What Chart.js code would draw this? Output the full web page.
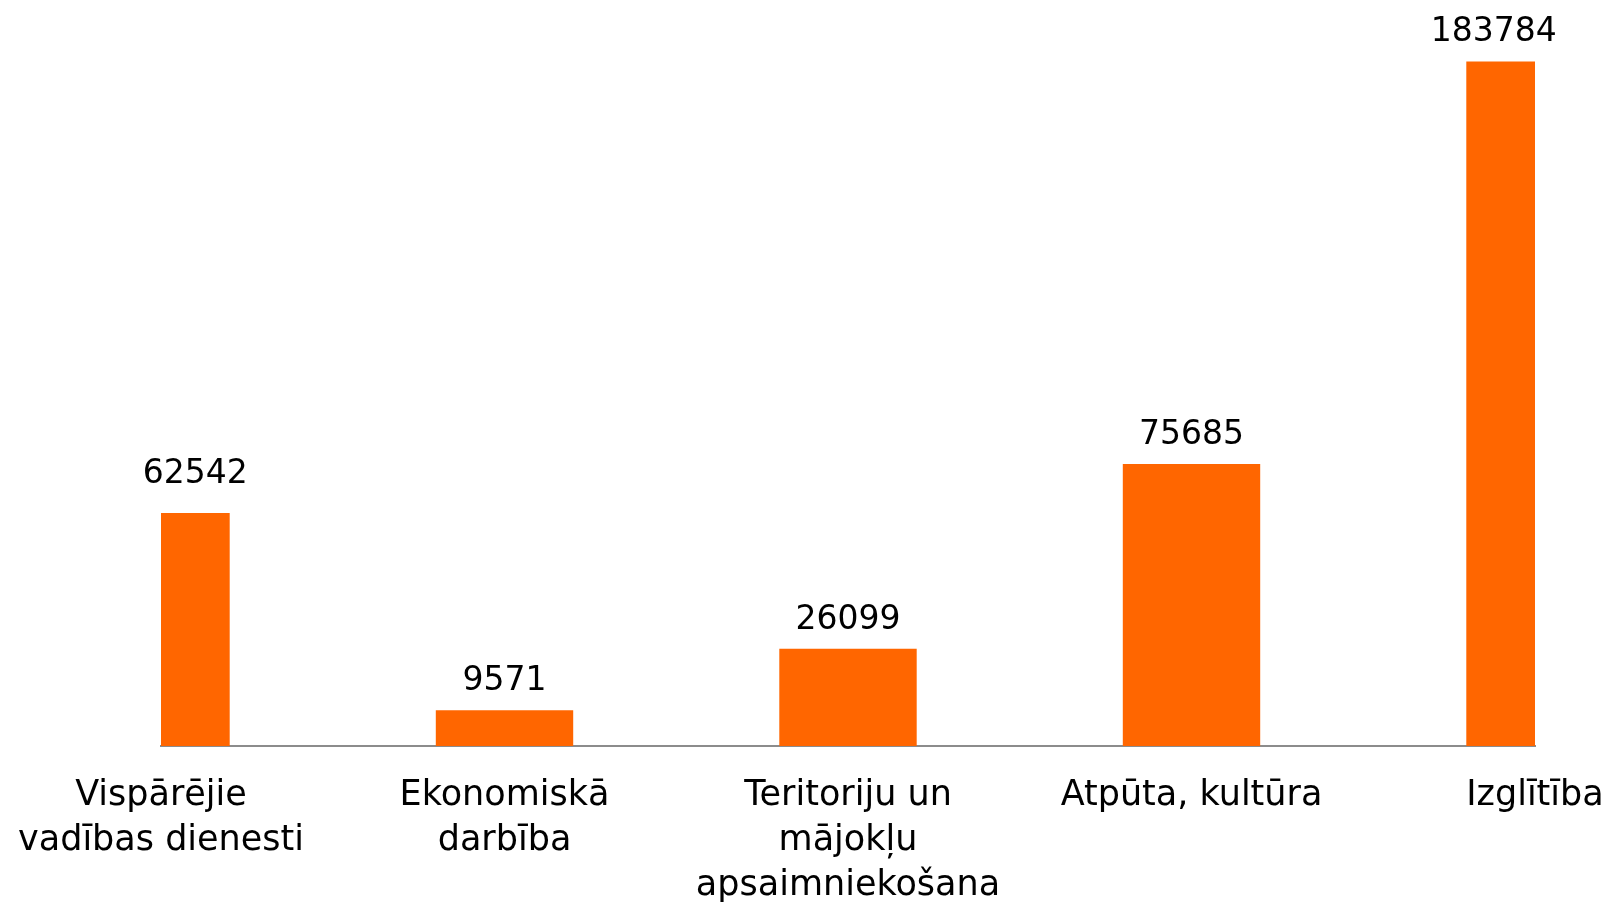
<!DOCTYPE html>
<html>
<head>
<meta charset="utf-8">
<script src="https://cdn.jsdelivr.net/npm/chart.js@4.4.1/dist/chart.umd.min.js"></script>
<style>
  html, body { margin: 0; padding: 0; background: #ffffff; }
  #wrap { width: 1604px; height: 904px; }
</style>
</head>
<body>
<div id="wrap"><canvas id="c" width="1604" height="904"></canvas></div>
<script>
const categories = [
  ["Vispārējie", "vadības dienesti"],
  ["Ekonomiskā", "darbība"],
  ["Teritoriju un", "mājokļu", "apsaimniekošana"],
  ["Atpūta, kultūra"],
  ["Izglītība"]
];
const values = [62542, 9571, 26099, 75685, 183784];
const valueAxisMin = 0;
const valueAxisMax = 200000;

const FONT_FAMILY = "'DejaVu Sans', 'Noto Sans', sans-serif";

const valueLabels = {
  id: 'valueLabels',
  afterDatasetsDraw(chart, args, opts) {
    const ctx = chart.ctx;
    const area = chart.chartArea;
    const meta = chart.getDatasetMeta(0);
    const dx = opts.dx || [];
    const dy = opts.dy || [];
    ctx.save();
    ctx.font = opts.size + "px " + FONT_FAMILY;
    ctx.fillStyle = opts.color;
    ctx.textAlign = 'center';
    ctx.textBaseline = 'alphabetic';
    meta.data.forEach((bar, i) => {
      const p = bar.getProps(['x', 'y', 'width'], true);
      const left = Math.max(p.x - p.width / 2, area.left);
      const right = Math.min(p.x + p.width / 2, area.right);
      const cx = (left + right) / 2 + (dx[i] || 0);
      ctx.fillText(String(chart.data.datasets[0].data[i]), cx, p.y - opts.gap - (dy[i] || 0));
    });
    ctx.restore();
  }
};

new Chart(document.getElementById('c'), {
  type: 'bar',
  data: {
    labels: categories,
    datasets: [{
      data: values,
      backgroundColor: '#FF6600',
      borderWidth: 0,
      categoryPercentage: 1.0,
      barPercentage: 0.4,
      clip: 0
    }]
  },
  options: {
    responsive: false,
    animation: false,
    events: [],
    layout: { padding: { left: 161, right: 69, top: 1, bottom: 0 } },
    plugins: {
      legend: { display: false },
      tooltip: { enabled: false },
      title: { display: false },
      valueLabels: { size: 33, color: '#000000', gap: 20, dx: [0, 0, 0, 0, -7], dy: [10, 0, 0, 0, 0] }
    },
    scales: {
      x: {
        offset: false,
        grid: { display: false, drawTicks: false },
        border: { display: true, color: '#8c8c8c', width: 2 },
        ticks: {
          color: '#000000',
          font: { family: FONT_FAMILY, size: 35, lineHeight: 1.28 },
          padding: 28,
          maxRotation: 0,
          minRotation: 0,
          autoSkip: false
        },
        afterFit(scale) { scale.paddingLeft = 0; scale.paddingRight = 0; scale.height = 158; }
      },
      y: {
        display: false,
        min: valueAxisMin,
        max: valueAxisMax
      }
    }
  },
  plugins: [valueLabels]
});
</script>
</body>
</html>
